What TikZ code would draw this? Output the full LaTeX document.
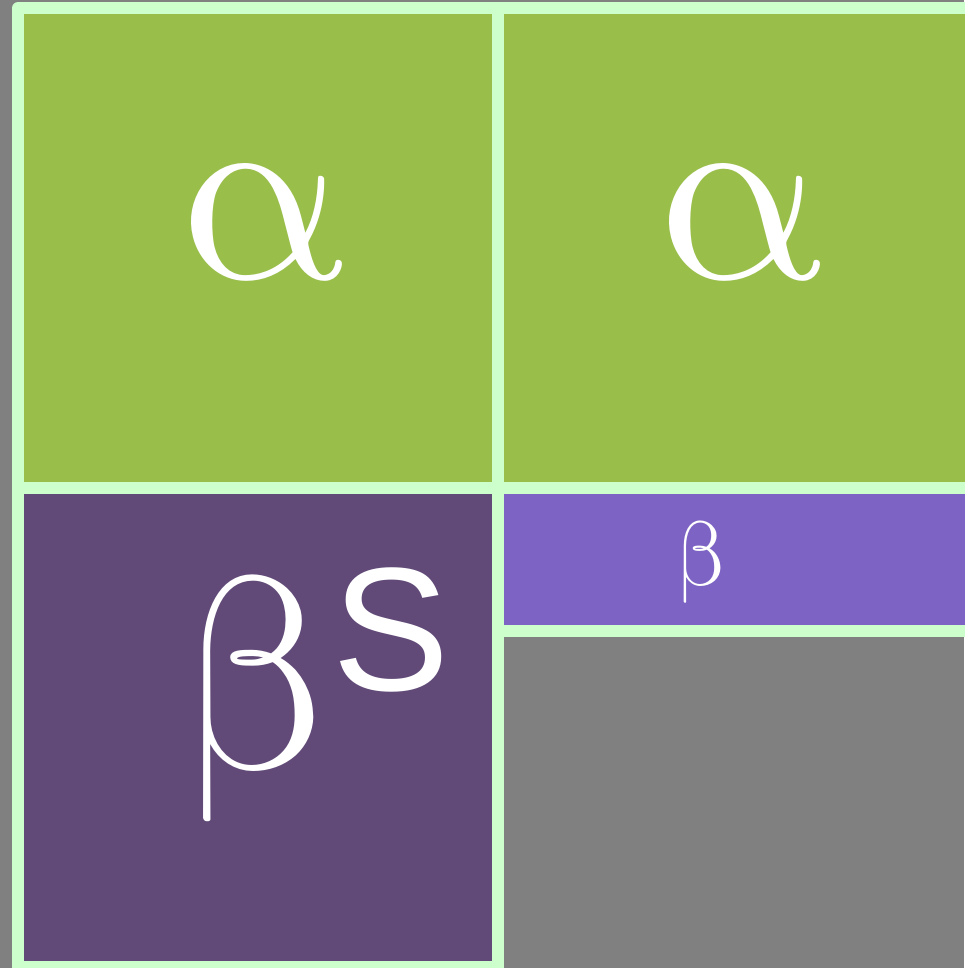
\documentclass[tikz,border=0pt]{standalone}
\usepackage{fontspec}
\usepackage{unicode-math}
\setmathfont{Latin Modern Math}
\setsansfont{Liberation Sans}
\usepackage{tikz}
\usetikzlibrary{positioning}
\usepackage{xcolor}
\definecolor{bgGray}{HTML}{808080}
\definecolor{cellLine}{HTML}{CCFFCC}
\definecolor{alphaGreen}{HTML}{99BE4A}
\definecolor{betaDark}{HTML}{614A78}
\definecolor{betaLight}{HTML}{7D63C4}
\newcommand{\gsize}[1]{\fontsize{#1}{#1}\selectfont}

\begin{document}
\begin{tikzpicture}[x=0.01cm, y=-0.01cm,
  cell/.style={draw=cellLine, line width=3.4pt, line join=round},
  glyph/.style={text=white, inner sep=0pt, anchor=base}]
  % background and page size
  \fill[bgGray] (0,0) rectangle (964,968);
  \useasboundingbox (0,0) rectangle (964,968);
  % cells
  \filldraw[cell, fill=alphaGreen] (18,8) rectangle (498,488);
  \filldraw[cell, fill=alphaGreen] (498,8) rectangle (978,488);
  \filldraw[cell, fill=betaDark] (18,488) rectangle (498,967);
  \filldraw[cell, fill=betaLight] (498,488) rectangle (978,631);
  % labels
  \node[glyph, font=\gsize{74}] (alphaL) at (263,279) {$\symup{\alpha}$};
  \node[glyph, font=\gsize{74}] (alphaR) at (741,279) {$\symup{\alpha}$};
  \node[glyph, anchor=base west, font=\gsize{78}] (betaS) at (180,768)
    {$\symup{\beta}$\hspace{-0.5pt}\raisebox{22pt}{\sffamily\gsize{50}S}};
  \node[glyph, font=\gsize{26}] (betaSmall) at (702,585) {$\symup{\beta}$};
\end{tikzpicture}
\end{document}
